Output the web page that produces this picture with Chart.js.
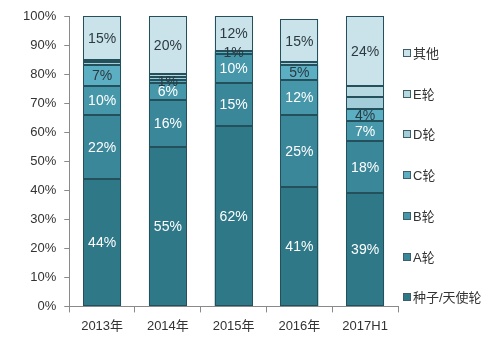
<!DOCTYPE html>
<html><head><meta charset="utf-8">
<script src="https://cdn.jsdelivr.net/npm/chart.js@4/dist/chart.umd.min.js"></script>
<style>html,body{margin:0;padding:0;background:#fff}#wrap{width:495px;height:345px;position:relative}</style>
</head><body><div id="wrap"><canvas id="c"></canvas></div>
<script>
const categories = ['2013年', '2014年', '2015年', '2016年', '2017H1'];
const seriesNames = ['种子/天使轮', 'A轮', 'B轮', 'C轮', 'D轮', 'E轮', '其他'];
const seedRound = [44, 55, 62, 41, 39];
const roundA = [22, 16, 15, 25, 18];
const roundB = [10, 6, 10, 12, 7];
const roundC = [7, 1, 1, 5, 4];
const roundD = [1, 1, 0, 1, 4];
const roundE = [1, 1, 0, 0, 4];
const others = [15, 20, 12, 15, 24];
const yTickValues = [0, 10, 20, 30, 40, 50, 60, 70, 80, 90, 100];

const seriesValues = [seedRound, roundA, roundB, roundC, roundD, roundE, others];
const colors = ['#2f7888', '#3a879a', '#4697aa', '#5cafc2', '#a3ced9', '#b6d8e1', '#cae2ea'];
const labelColors = ['#ffffff', '#ffffff', '#ffffff', '#2b3a40', null, null, '#2b3a40'];
const FONT = '"Liberation Sans", Arial, "Noto Sans CJK SC", sans-serif';

const datasets = seriesNames.map((name, i) => ({
  label: name,
  data: seriesValues[i],
  backgroundColor: colors[i],
  borderWidth: 0,
  barPercentage: 0.576,
  categoryPercentage: 1.0
}));

const segmentOutlines = {
  id: 'segmentOutlines',
  afterDatasetsDraw(chart) {
    const ctx = chart.ctx;
    ctx.save();
    ctx.strokeStyle = '#24505b';
    ctx.lineWidth = 1;
    chart.data.datasets.forEach((ds, i) => {
      const meta = chart.getDatasetMeta(i);
      meta.data.forEach((el, j) => {
        if (!ds.data[j]) return;
        const l = Math.round(el.x - el.width / 2) + 0.5;
        const r = Math.round(el.x + el.width / 2) - 0.5;
        const t = Math.round(el.y) + 0.5;
        const b = Math.round(el.base) - 0.5;
        ctx.strokeRect(l, t, r - l, Math.max(b - t, 0));
      });
    });
    ctx.restore();
  }
};

const valueLabels = {
  id: 'valueLabels',
  afterDatasetsDraw(chart) {
    const ctx = chart.ctx;
    ctx.save();
    ctx.font = '14px ' + FONT;
    ctx.textAlign = 'center';
    ctx.textBaseline = 'middle';
    chart.data.datasets.forEach((ds, i) => {
      if (!labelColors[i]) return;
      const meta = chart.getDatasetMeta(i);
      meta.data.forEach((el, j) => {
        const v = ds.data[j];
        if (!v) return;
        ctx.fillStyle = labelColors[i];
        ctx.fillText(v + '%', el.x, (el.y + el.base) / 2 + 1);
      });
    });
    ctx.restore();
  }
};

const sideLegend = {
  id: 'sideLegend',
  afterDraw(chart) {
    const ctx = chart.ctx;
    const x0 = chart.chartArea.right + 5;
    const yStart = 53, step = 40.7;
    ctx.save();
    ctx.font = '13px ' + FONT;
    ctx.textBaseline = 'middle';
    ctx.textAlign = 'left';
    const n = chart.data.datasets.length;
    for (let k = 0; k < n; k++) {
      const ds = chart.data.datasets[n - 1 - k];
      const y = Math.round(yStart + k * step);
      ctx.fillStyle = ds.backgroundColor;
      ctx.fillRect(x0 + 0.5, y - 3.5, 7, 7);
      ctx.strokeStyle = '#3d5f68';
      ctx.lineWidth = 1;
      ctx.strokeRect(x0 + 0.5, y - 3.5, 7, 7);
      ctx.fillStyle = '#333333';
      ctx.fillText(ds.label, x0 + 10, y + 1);
    }
    ctx.restore();
  }
};

new Chart(document.getElementById('c'), {
  type: 'bar',
  data: { labels: categories, datasets },
  options: {
    responsive: true,
    maintainAspectRatio: false,
    animation: false,
    layout: { padding: { left: 15, top: 16, right: 97, bottom: 5 } },
    plugins: { legend: { display: false }, tooltip: { enabled: false } },
    scales: {
      x: {
        stacked: true,
        grid: { display: true, drawOnChartArea: false, drawTicks: true, tickLength: 6, color: '#8a8a8a', offset: true },
        border: { display: true, color: '#8a8a8a' },
        ticks: { color: '#333333', font: { size: 13, family: FONT }, padding: 6 }
      },
      y: {
        stacked: true,
        min: 0, max: 100,
        afterBuildTicks(scale) { scale.ticks = yTickValues.map(v => ({ value: v })); },
        grid: { display: true, drawOnChartArea: false, drawTicks: true, tickLength: 5, color: '#8a8a8a' },
        border: { display: true, color: '#8a8a8a' },
        ticks: { color: '#333333', font: { size: 13, family: FONT }, padding: 8, callback: v => v + '%' }
      }
    }
  },
  plugins: [segmentOutlines, valueLabels, sideLegend]
});
</script></body></html>
